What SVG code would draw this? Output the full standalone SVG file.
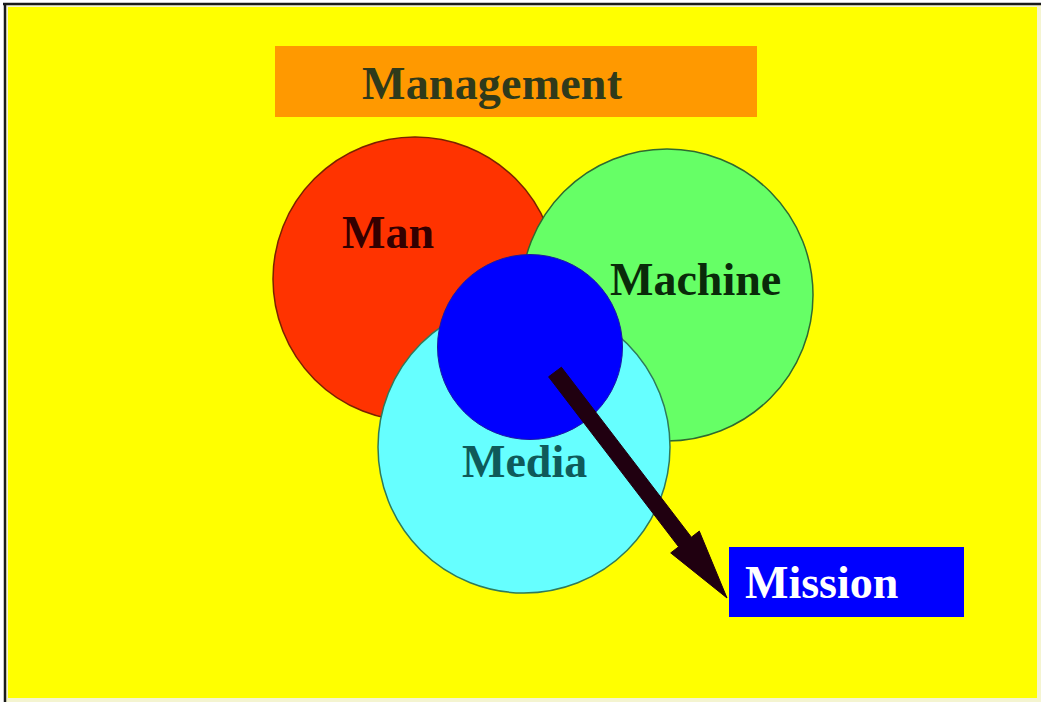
<svg xmlns="http://www.w3.org/2000/svg" width="1041" height="702" viewBox="0 0 1041 702">
<style>
text{font-family:"Liberation Serif","Times New Roman",serif;font-weight:bold;font-size:46px}
.c{stroke-width:1.5}
</style>
<rect x="0" y="0" width="1041" height="702" fill="#ffffff"/>
<rect x="6" y="5" width="1035" height="697" fill="#f4f4d0"/>
<rect x="8" y="7" width="1029" height="691" fill="#ffff00"/>
<line x1="3" y1="4" x2="1041" y2="4" stroke="#1a1a1a" stroke-width="2.5"/>
<line x1="5" y1="3" x2="5" y2="702" stroke="#1a1a1a" stroke-width="2.5"/>
<g id="management">
<rect x="275" y="46" width="482" height="71" fill="#ff9900"/>
<text x="362" y="99" fill="#2f3a1b" textLength="260">Management</text>
</g>
<g id="man">
<circle class="c" cx="415" cy="279" r="142" fill="#ff3300" stroke="#7a2200"/>
<text x="342" y="248" fill="#330000">Man</text>
</g>
<g id="machine">
<circle class="c" cx="667" cy="295" r="146" fill="#66ff66" stroke="#2f6a2f"/>
<text x="610" y="295" fill="#0a2a0a">Machine</text>
</g>
<g id="media">
<circle class="c" cx="524" cy="447" r="146" fill="#66ffff" stroke="#2f7a5a"/>
<circle cx="530" cy="347" r="92.5" fill="#0000ff" stroke="#1a1aa0" stroke-width="1"/>
<text x="462" y="477" fill="#0f5a5a">Media</text>
</g>
<g id="mission">
<rect x="729" y="547" width="235" height="70" fill="#0000ff"/>
<text x="745" y="598" fill="#ffffff">Mission</text>
</g>
<g id="connectors">
<polygon points="561.4,367.2 548.6,376.8 678.6,546.8 670.7,552.9 727,598 699.3,531.1 691.4,537.2" fill="#200010" stroke="#200010" stroke-width="1" stroke-linejoin="miter"/>
</g>
</svg>
